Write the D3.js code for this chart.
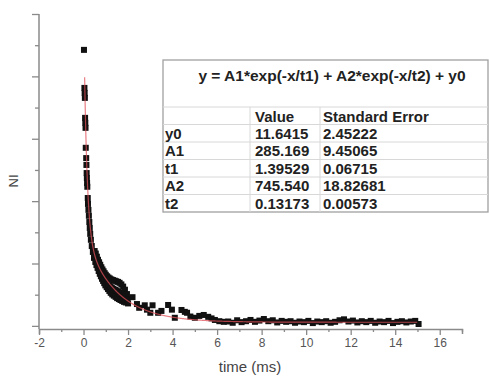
<!DOCTYPE html>
<html>
<head>
<meta charset="utf-8">
<script src="https://cdn.jsdelivr.net/npm/d3@7/dist/d3.min.js"></script>
<style>
  body { margin: 0; background: #fff; }
  svg { display: block; font-family: "Liberation Sans", Arial, sans-serif; }
</style>
</head>
<body>
<svg id="chart" width="489" height="376"></svg>
<script>
// measured decay (time in ms, NI)
const times = [
  0.02, 0.04, 0.05, 0.06, 0.07, 0.08, 0.09, 0.10, 0.12, 0.13, 0.14, 0.15, 0.16, 0.17,
  0.19, 0.20, 0.22, 0.24, 0.26, 0.28, 0.30, 0.33, 0.37, 0.42, 0.47,
  0.50, 0.51, 0.53, 0.55, 0.56, 0.58, 0.60, 0.61, 0.63, 0.65, 0.66, 0.68,
  0.70, 0.71, 0.73, 0.75, 0.76, 0.78, 0.80, 0.81, 0.83, 0.85, 0.86, 0.88,
  0.90, 0.91, 0.93, 0.95, 0.96, 0.98, 1.00, 1.02, 1.04, 1.06, 1.08, 1.10,
  1.12, 1.14, 1.16, 1.18, 1.20, 1.22, 1.25, 1.27, 1.29, 1.32, 1.34, 1.36,
  1.40, 1.42, 1.44, 1.47, 1.49, 1.51, 1.55, 1.57, 1.59, 1.62, 1.64, 1.66,
  1.70, 1.72, 1.74, 1.78, 1.80, 1.82, 1.86, 1.88, 1.90, 1.95, 1.97, 2.00,
  2.20, 2.40, 2.50, 2.75, 2.85, 3.00, 3.10, 3.35, 3.50, 3.80, 3.97, 4.10, 4.40, 4.55,
  4.65, 4.80, 5.00, 5.20, 5.40, 5.60, 5.75, 5.90, 6.10, 6.30,
  6.5, 6.7, 6.9, 7.1, 7.3, 7.5, 7.7, 7.9, 8.1, 8.3, 8.5, 8.7, 8.9, 9.1, 9.3, 9.5, 9.7,
  9.9, 10.1, 10.3, 10.5, 10.7, 10.9, 11.1, 11.3, 11.5, 11.7, 11.9, 12.1, 12.3, 12.5,
  12.7, 12.9, 13.1, 13.3, 13.5, 13.7, 13.9, 14.1, 14.3, 14.5, 14.7, 14.9, 15.05
];
const counts = [
  885, 763, 747, 731, 667, 651, 635, 571, 538, 516, 490, 474, 458, 446,
  410, 391, 372, 353, 333, 314, 295, 276, 256, 237, 218,
  240, 222, 205, 232, 214, 195, 222, 204, 186, 212, 195, 176,
  204, 186, 167, 196, 178, 159, 188, 170, 151, 181, 163, 144,
  175, 156, 137, 169, 150, 130, 164, 144, 124, 159, 138, 118,
  155, 132, 112, 152, 127, 106, 149, 123, 101, 147, 119, 97,
  145, 116, 93, 143, 113, 89, 141, 110, 86, 138, 107, 83,
  133, 103, 80, 126, 98, 77, 116, 92, 75, 102, 85, 72,
  92, 70, 58, 66, 52, 42, 66, 42, 48, 67, 52, 26, 51, 45,
  42, 30, 26, 32, 35, 29, 24, 19, 15, 13,
  14, 10, 18, 12, 15, 19, 13, 17, 22, 15, 18, 11, 16, 13, 15, 10, 14,
  12, 16, 9, 14, 12, 15, 10, 13, 18, 21, 14, 17, 11, 15,
  12, 16, 10, 14, 12, 16, 9, 13, 15, 11, 14, 16, 6
];

// fit results shown in the table
const paramNames = ["y0", "A1", "t1", "A2", "t2"];
const paramValues = ["11.6415", "285.169", "1.39529", "745.540", "0.13173"];
const paramErrors = ["2.45222", "9.45065", "0.06715", "18.82681", "0.00573"];
const fitTitle = "y = A1*exp(-x/t1) + A2*exp(-x/t2) + y0";

const xTicks = [-2, 0, 2, 4, 6, 8, 10, 12, 14, 16];
const yTicks = [0, 200, 400, 600, 800, 1000];

const svg = d3.select("#chart");

const x = d3.scaleLinear().domain([-2, 17]).range([39, 462]);
const y = d3.scaleLinear().domain([-10, 1000]).range([329, 14]);

const axisColor = "#8a8a8a";

// x axis
const xAxis = d3.axisBottom(x)
  .tickValues(d3.range(-2, 17.5, 1))
  .tickSize(5)
  .tickFormat(d => xTicks.includes(d) ? d : "");
const gx = svg.append("g").attr("transform", "translate(0,329)").call(xAxis);
gx.select(".domain").attr("stroke", axisColor).attr("stroke-width", 1.5);
gx.selectAll(".tick line").attr("stroke", axisColor).attr("stroke-width", 1.3)
  .attr("y2", d => xTicks.includes(d) ? 6 : 3);
gx.selectAll(".tick text").attr("fill", "#555").attr("font-size", 12).attr("dy", "0.85em")
  .attr("font-family", "Liberation Sans, Arial, sans-serif");

// y axis (no labels)
const yAxis = d3.axisLeft(y)
  .tickValues(d3.range(0, 1001, 100))
  .tickFormat("");
const gy = svg.append("g").attr("transform", "translate(39,0)").call(yAxis);
gy.select(".domain").attr("stroke", axisColor).attr("stroke-width", 1.5)
  .attr("d", "M0," + y(1000) + "V" + y(-10));
gy.selectAll(".tick line").attr("stroke", axisColor).attr("stroke-width", 1.3)
  .attr("x2", d => yTicks.includes(d) ? -7 : -4);

// axis titles
svg.append("text")
  .attr("x", 250).attr("y", 372)
  .attr("text-anchor", "middle")
  .attr("font-size", 15).attr("fill", "#444")
  .text("time (ms)");
svg.append("text")
  .attr("transform", "translate(18,181) rotate(-90)")
  .attr("text-anchor", "middle")
  .attr("font-size", 13).attr("fill", "#444")
  .text("NI");

// data points
const pts = times.map((t, i) => ({ t: t, v: counts[i] }));
svg.append("g").selectAll("rect")
  .data(pts)
  .enter()
  .append("rect")
  .attr("x", d => x(d.t) - 3)
  .attr("y", d => y(d.v) - 3)
  .attr("width", 6)
  .attr("height", 6)
  .attr("fill", "#111");

// fitted curve from table parameters
const p = {};
paramNames.forEach((n, i) => p[n] = +paramValues[i]);
const fitT = d3.range(0.05, 15.0, 0.01);
const fitLine = d3.line()
  .x(t => x(t))
  .y(t => y(p.A1 * Math.exp(-t / p.t1) + p.A2 * Math.exp(-t / p.t2) + p.y0));
svg.append("path")
  .attr("d", fitLine(fitT))
  .attr("fill", "none")
  .attr("stroke", "#e0505a")
  .attr("stroke-opacity", 0.75)
  .attr("stroke-width", 1.2);

// results table
const tbl = svg.append("g");
const tLeft = 163, tRight = 488, tTop = 60, headY = 107, rowH = 17.5;
const colX = [163, 250, 320];
const rowTop = i => headY + rowH * (i + 1);
const tBottom = rowTop(paramNames.length);

tbl.append("rect")
  .attr("x", tLeft).attr("y", tTop)
  .attr("width", tRight - tLeft).attr("height", tBottom - tTop)
  .attr("fill", "#fff").attr("stroke", "#a0a0a0").attr("stroke-width", 1.3);

// horizontal rules
[headY].concat(paramNames.map((d, i) => rowTop(i)))
  .forEach(yy => tbl.append("line")
    .attr("x1", tLeft).attr("x2", tRight).attr("y1", yy).attr("y2", yy)
    .attr("stroke", "#d8d8d8").attr("stroke-width", 1));
// vertical rules
colX.slice(1).forEach(xx => tbl.append("line")
  .attr("x1", xx).attr("x2", xx).attr("y1", headY).attr("y2", tBottom)
  .attr("stroke", "#d8d8d8").attr("stroke-width", 1));

tbl.append("text")
  .attr("x", 332).attr("y", 81)
  .attr("text-anchor", "middle")
  .attr("font-size", 15.5).attr("font-weight", "bold").attr("fill", "#222")
  .text(fitTitle);

const txt = (s, xx, yy) => tbl.append("text")
  .attr("x", xx).attr("y", yy)
  .attr("font-size", 15).attr("font-weight", "bold").attr("fill", "#222")
  .text(s);

txt("Value", 255, 122);
txt("Standard Error", 323, 122);
paramNames.forEach((n, i) => {
  const base = rowTop(i) + 14;
  txt(n, 165, base);
  txt(paramValues[i], 255, base);
  txt(paramErrors[i], 323, base);
});
</script>
</body>
</html>
